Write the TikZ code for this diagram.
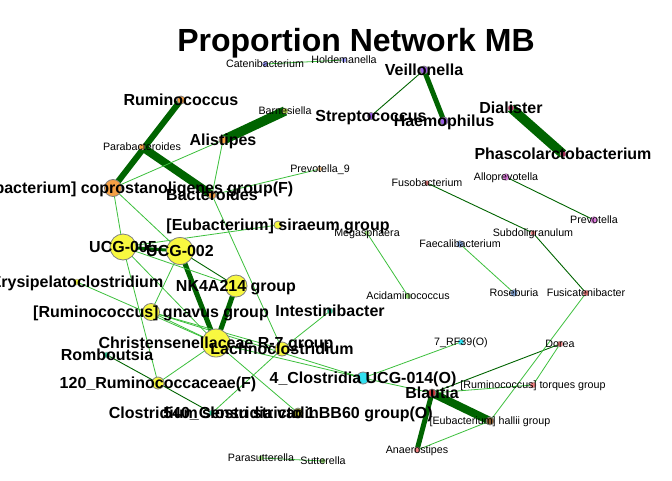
\documentclass[tikz,border=0pt]{standalone}
\usepackage{fontspec}
\setmainfont{Liberation Sans}
\pgfdeclarelayer{bg}
\pgfsetlayers{bg,main}
\definecolor{dg}{HTML}{006400}
\definecolor{lg}{HTML}{3CC03C}
\definecolor{cyel}{HTML}{F8F840}
\definecolor{corg}{HTML}{F4A045}
\definecolor{cpur}{HTML}{9A5CE6}
\definecolor{clav}{HTML}{9999FF}
\definecolor{cmar}{HTML}{B0305A}
\definecolor{cteal}{HTML}{33CC99}
\definecolor{ccyan}{HTML}{33E0F0}
\definecolor{cred}{HTML}{D03A3A}
\definecolor{cpink}{HTML}{F08080}
\definecolor{cbrn}{HTML}{8B5A2B}
\definecolor{cvio}{HTML}{E080E0}
\definecolor{clgr}{HTML}{99DD77}
\definecolor{clbl}{HTML}{88AADD}
\definecolor{coli}{HTML}{AACC44}
\tikzset{
  vtx/.style={circle,draw=gray,line width=0.8pt,inner sep=0pt,fill=#1},
  svtx/.style={circle,draw=gray!60,line width=0.4pt,inner sep=0pt,fill=#1},
  lb/.style={font=\bfseries\fontsize{16}{16}\selectfont,anchor=base,inner sep=0pt,yshift=-5.8pt},
  sm/.style={font=\fontsize{10.7}{10.7}\selectfont,anchor=base,inner sep=0pt,yshift=-3.9pt},
  thk/.style={draw=dg,line width=#1},
  dk/.style={draw=dg,line width=0.9pt},
  lt/.style={draw=lg,line width=0.8pt},
  ttl/.style={font=\bfseries\fontsize{32}{32}\selectfont,anchor=base,inner sep=0pt}
}
\begin{document}
\begin{tikzpicture}[x=1pt,y=-1pt]
\useasboundingbox (0,0) rectangle (672,480);
\clip (0,0) rectangle (672,480);
% vertices
\node[svtx=clav,minimum size=5pt] (cat) at (265,64) {};
\node[svtx=clav,minimum size=5pt] (hol) at (344,60) {};
\node[vtx=cpur,minimum size=8pt] (vei) at (424,70) {};
\node[vtx=cpur,minimum size=7pt] (str) at (371,116) {};
\node[vtx=cpur,minimum size=8pt] (hae) at (444,121) {};
\node[svtx=cmar,minimum size=6pt] (dia) at (511,108) {};
\node[svtx=cmar,minimum size=6pt] (pha) at (563,154) {};
\node[vtx=corg,minimum size=8pt] (rum) at (181,100) {};
\node[svtx=coli,minimum size=6pt] (bar) at (285,111) {};
\node[vtx=corg,minimum size=8pt] (ali) at (223,140) {};
\node[svtx=corg,minimum size=6pt] (par) at (142,147) {};
\node[vtx=corg,minimum size=17pt] (cop) at (113,188) {};
\node[vtx=corg,minimum size=8pt] (bac) at (212,195) {};
\node[svtx=corg!60,minimum size=5pt] (pr9) at (320,169) {};
\node[vtx=cyel,minimum size=8pt] (sir) at (278,225) {};
\node[vtx=cyel,minimum size=26pt] (u05) at (123,247) {};
\node[vtx=cyel,minimum size=27pt] (u02) at (180,251) {};
\node[vtx=cyel,minimum size=22pt] (nk4) at (236,286) {};
\node[svtx=cyel,minimum size=6pt] (ery) at (77,282) {};
\node[vtx=cyel,minimum size=17pt] (gna) at (151,312) {};
\node[svtx=cteal,minimum size=6pt] (int) at (330,311) {};
\node[vtx=cyel,minimum size=28pt] (chr) at (216,343) {};
\node[vtx=cyel,minimum size=14pt] (lac) at (282,349) {};
\node[svtx=cteal,minimum size=6pt] (rom) at (107,355) {};
\node[vtx=cyel,minimum size=12pt] (r120) at (158,383) {};
\node[vtx=ccyan,minimum size=12pt] (c4) at (363,378) {};
\node[svtx=cteal,minimum size=6pt] (css) at (212,413) {};
\node[vtx=cyel,minimum size=10pt] (v540) at (298,413) {};
\node[vtx=cred,minimum size=8pt] (bla) at (432,393) {};
\node[svtx=cpink,minimum size=6pt] (tor) at (533,385) {};
\node[vtx=cbrn,minimum size=8pt] (hal) at (490,421) {};
\node[svtx=cpink,minimum size=6pt] (ana) at (417,450) {};
\node[svtx=cpink,minimum size=6pt] (dor) at (560,344) {};
\node[svtx=ccyan,minimum size=6pt] (rf39) at (461,342) {};
\node[svtx=cpink,minimum size=6pt] (fsc) at (586,293) {};
\node[svtx=cpink,minimum size=5pt] (sub) at (533,233) {};
\node[svtx=cpink,minimum size=5pt] (fus) at (427,183) {};
\node[svtx=cvio,minimum size=7pt] (alp) at (506,177) {};
\node[svtx=cvio,minimum size=7pt] (pre) at (594,220) {};
\node[svtx=clgr,minimum size=5pt] (meg) at (367,233) {};
\node[svtx=clgr,minimum size=6pt] (aci) at (408,296) {};
\node[svtx=clbl,minimum size=7pt] (fae) at (460,244) {};
\node[svtx=clbl,minimum size=7pt] (ros) at (514,293) {};
\node[svtx=clgr,minimum size=5pt] (pas) at (261,458) {};
\node[svtx=clgr,minimum size=5pt] (sut) at (323,461) {};
% edges
\begin{pgfonlayer}{bg}
\fill[white] (0,0) rectangle (672,480);
\draw[thk=6pt] (rum.center) -- (cop.center);
\draw[thk=9.5pt] (bar.center) -- (ali.center);
\draw[thk=8pt] (par.center) -- (bac.center);
\draw[thk=5pt] (vei.center) -- (hae.center);
\draw[thk=9.5pt] (dia.center) -- (pha.center);
\draw[thk=5pt] (u02.center) -- (chr.center);
\draw[thk=5pt] (nk4.center) -- (chr.center);
\draw[thk=3pt] (u05.center) -- (u02.center);
\draw[thk=8pt] (bla.center) -- (hal.center);
\draw[thk=5pt] (bla.center) -- (ana.center);
\draw[dk] (vei.center) -- (str.center);
\draw[dk] (alp.center) -- (pre.center);
\draw[dk] (fus.center) -- (sub.center);
\draw[dk] (sub.center) -- (fsc.center);
\draw[dk] (u02.center) -- (nk4.center);
\draw[dk] (rom.center) -- (r120.center);
\draw[dk] (r120.center) -- (css.center);
\draw[dk] (dor.center) -- (bla.center);
\draw[lt] (cat.center) -- (hol.center);
\draw[lt] (cop.center) -- (ali.center);
\draw[lt] (ali.center) -- (bac.center);
\draw[lt] (bac.center) -- (pr9.center);
\draw[lt] (bac.center) -- (lac.center);
\draw[lt] (cop.center) -- (u05.center);
\draw[lt] (cop.center) -- (u02.center);
\draw[lt] (sir.center) -- (u05.center);
\draw[lt] (u05.center) -- (nk4.center);
\draw[lt] (u05.center) -- (chr.center);
\draw[lt] (u05.center) -- (r120.center);
\draw[lt] (ery.center) -- (chr.center);
\draw[lt] (u02.center) -- (gna.center);
\draw[lt] (gna.center) -- (chr.center);
\draw[lt] (gna.center) -- (lac.center);
\draw[lt] (gna.center) -- (c4.center);
\draw[lt] (chr.center) -- (r120.center);
\draw[lt] (chr.center) -- (v540.center);
\draw[lt] (chr.center) -- (c4.center);
\draw[lt] (lac.center) -- (int.center);
\draw[lt] (lac.center) -- (css.center);
\draw[lt] (c4.center) -- (rf39.center);
\draw[lt] (c4.center) -- (bla.center);
\draw[lt] (tor.center) -- (bla.center);
\draw[lt] (dor.center) -- (tor.center);
\draw[lt] (fsc.center) -- (hal.center);
\draw[lt] (hal.center) -- (ana.center);
\draw[lt] (meg.center) -- (aci.center);
\draw[lt] (fae.center) -- (ros.center);
\draw[lt] (pas.center) -- (sut.center);
\end{pgfonlayer}
% title
\node[ttl] (title) at (356,51) {Proportion Network MB};
% labels
\node[sm] (cat-l) at (cat) {Catenibacterium};
\node[sm] (hol-l) at (hol) {Holdemanella};
\node[lb] (vei-l) at (vei) {Veillonella};
\node[lb] (str-l) at (str) {Streptococcus};
\node[lb] (hae-l) at (hae) {Haemophilus};
\node[lb] (dia-l) at (dia) {Dialister};
\node[lb] (pha-l) at (pha) {Phascolarctobacterium};
\node[lb] (rum-l) at (rum) {Ruminococcus};
\node[sm] (bar-l) at (bar) {Barnesiella};
\node[lb] (ali-l) at (ali) {Alistipes};
\node[sm] (par-l) at (par) {Parabacteroides};
\node[lb,xshift=18pt] (cop-l) at (cop) {[Eubacterium] coprostanoligenes group(F)};
\node[lb] (bac-l) at (bac) {Bacteroides};
\node[sm] (pr9-l) at (pr9) {Prevotella\_9};
\node[lb] (sir-l) at (sir) {[Eubacterium] siraeum group};
\node[lb] (u05-l) at (u05) {UCG-005};
\node[lb] (u02-l) at (u02) {UCG-002};
\node[lb] (nk4-l) at (nk4) {NK4A214 group};
\node[lb] (ery-l) at (ery) {Erysipelatoclostridium};
\node[lb] (gna-l) at (gna) {[Ruminococcus] gnavus group};
\node[lb] (int-l) at (int) {Intestinibacter};
\node[lb] (chr-l) at (chr) {Christensenellaceae R-7 group};
\node[lb] (lac-l) at (lac) {Lachnoclostridium};
\node[lb] (rom-l) at (rom) {Romboutsia};
\node[lb] (r120-l) at (r120) {120\_Ruminococcaceae(F)};
\node[lb] (c4-l) at (c4) {4\_Clostridia UCG-014(O)};
\node[lb] (css-l) at (css) {Clostridium sensu stricto 1};
\node[lb] (v540-l) at (v540) {540\_Clostridia vadinBB60 group(O)};
\node[lb] (bla-l) at (bla) {Blautia};
\node[sm] (tor-l) at (tor) {[Ruminococcus] torques group};
\node[sm] (hal-l) at (hal) {[Eubacterium] hallii group};
\node[sm] (ana-l) at (ana) {Anaerostipes};
\node[sm] (dor-l) at (dor) {Dorea};
\node[sm] (rf39-l) at (rf39) {7\_RF39(O)};
\node[sm] (fsc-l) at (fsc) {Fusicatenibacter};
\node[sm] (sub-l) at (sub) {Subdoligranulum};
\node[sm] (fus-l) at (fus) {Fusobacterium};
\node[sm] (alp-l) at (alp) {Alloprevotella};
\node[sm] (pre-l) at (pre) {Prevotella};
\node[sm] (meg-l) at (meg) {Megasphaera};
\node[sm] (aci-l) at (aci) {Acidaminococcus};
\node[sm] (fae-l) at (fae) {Faecalibacterium};
\node[sm] (ros-l) at (ros) {Roseburia};
\node[sm] (pas-l) at (pas) {Parasutterella};
\node[sm] (sut-l) at (sut) {Sutterella};
\end{tikzpicture}
\end{document}
